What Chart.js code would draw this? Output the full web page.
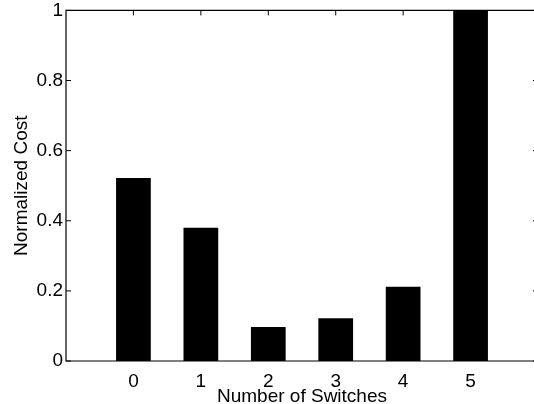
<!DOCTYPE html>
<html>
<head>
<meta charset="utf-8">
<script src="https://cdn.jsdelivr.net/npm/chart.js@4/dist/chart.umd.min.js"></script>
<style>
  html, body { margin: 0; padding: 0; background: #fff; overflow: hidden; }
  #wrap { position: absolute; left: 0; top: 0; width: 534px; height: 404px; overflow: hidden; }
  #box { position: absolute; left: 0; top: -4px; width: 538px; height: 414px; }
</style>
</head>
<body>
<div id="wrap"><div id="box"><canvas id="c"></canvas></div></div>
<script>
// ---- data ----
const switches = [0, 1, 2, 3, 4, 5];
const normalizedCost = [0.522, 0.380, 0.097, 0.122, 0.212, 1.0];
const yTicks = [0, 0.2, 0.4, 0.6, 0.8, 1];
const yTickLabels = ['0', '0.2', '0.4', '0.6', '0.8', '1'];
const xTickLabels = ['0', '1', '2', '3', '4', '5'];
const xLabel = 'Number of Switches';
const yLabel = 'Normalized Cost';

const FONT = { family: '"Liberation Sans", Arial, Helvetica, sans-serif', size: 19 };

const boxPlugin = {
  id: 'matlabBox',
  afterDraw(chart) {
    const { ctx, chartArea: a, scales } = chart;
    const xs = scales.x, ys = scales.y;
    const L = 5;
    ctx.save();
    ctx.strokeStyle = '#000';
    ctx.lineWidth = 1.2;
    ctx.beginPath();
    ctx.rect(a.left, a.top, a.right - a.left, a.bottom - a.top);
    ctx.stroke();
    ctx.lineWidth = 1;
    ctx.beginPath();
    xs.ticks.forEach(t => {
      const px = xs.getPixelForValue(t.value);
      ctx.moveTo(px, a.bottom); ctx.lineTo(px, a.bottom - L);
      ctx.moveTo(px, a.top); ctx.lineTo(px, a.top + L);
    });
    ys.ticks.forEach(t => {
      const py = ys.getPixelForValue(t.value);
      ctx.moveTo(a.left, py); ctx.lineTo(a.left + L, py);
      ctx.moveTo(a.right, py); ctx.lineTo(a.right - L, py);
    });
    ctx.stroke();
    ctx.restore();
  }
};

new Chart(document.getElementById('c'), {
  type: 'bar',
  data: {
    datasets: [{
      data: switches.map((s, i) => ({ x: s, y: normalizedCost[i] })),
      backgroundColor: '#000',
      borderWidth: 0,
      barPercentage: 0.515,
      categoryPercentage: 1.0
    }]
  },
  plugins: [boxPlugin],
  options: {
    responsive: true,
    maintainAspectRatio: false,
    animation: false,
    events: [],
    layout: { padding: { top: 14, left: 0, right: 0, bottom: 0 } },
    plugins: { legend: { display: false }, tooltip: { enabled: false } },
    scales: {
      x: {
        type: 'linear',
        min: -1, max: 6,
        offset: false,
        afterBuildTicks(scale) { scale.ticks = switches.map(v => ({ value: v })); },
        afterFit(scale) { scale.height = 49; },
        grid: { display: false, drawTicks: false },
        border: { display: false },
        ticks: { color: '#000', font: FONT, padding: 9, maxRotation: 0, autoSkip: false,
                 callback: (v, i) => xTickLabels[i] },
        title: { display: true, text: xLabel, color: '#000', font: FONT, padding: { top: 0, bottom: 1.4 } }
      },
      y: {
        min: 0, max: 1,
        afterBuildTicks(scale) { scale.ticks = yTicks.map(v => ({ value: v })); },
        afterFit(scale) { scale.width = 66; },
        grid: { display: false, drawTicks: false },
        border: { display: false },
        ticks: { color: '#000', font: FONT, padding: 3, callback: (v, i) => yTickLabels[i] },
        title: { display: true, text: yLabel, color: '#000', font: FONT, padding: { top: 10.7, bottom: 0 } }
      }
    }
  }
});
</script>
</body>
</html>
